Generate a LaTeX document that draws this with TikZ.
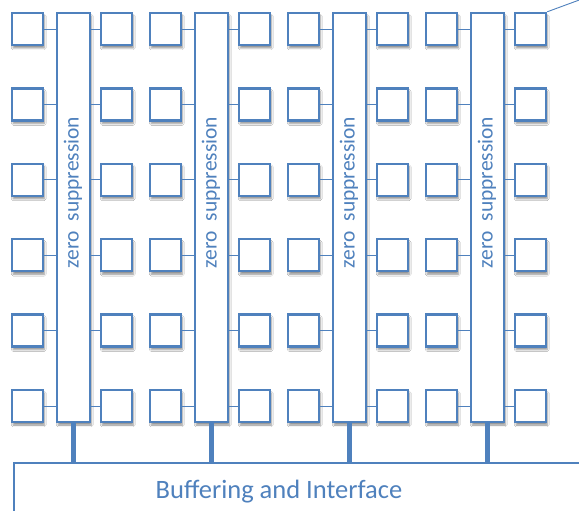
\documentclass[tikz,border=0pt]{standalone}
\usepackage{fontspec}
\setmainfont{Carlito}
\usetikzlibrary{shadows.blur}
\definecolor{boxblue}{RGB}{79,129,189}
\definecolor{textblue}{RGB}{79,129,189}
\begin{document}
\begin{tikzpicture}[x=1pt,y=-1pt,
  shade/.style={blur shadow={shadow xshift=1.2pt, shadow yshift=-3pt, shadow blur steps=6, shadow opacity=45}},
  cell/.style={draw=boxblue, line width=2.4pt, fill=white, minimum width=31pt, minimum height=32pt, inner sep=0pt, shade},
  zcol/.style={draw=boxblue, line width=1.6pt, fill=white, minimum width=33pt, minimum height=409pt, inner sep=0pt, shade},
  ztext/.style={text=textblue, font=\fontsize{21.5}{25}\selectfont, inner sep=0pt},
  link/.style={draw=boxblue, line width=0.9pt},
  bus/.style={draw=boxblue, line width=5pt},
  bufbox/.style={draw=boxblue, line width=2pt, fill=white, minimum width=620pt, minimum height=80pt, inner sep=0pt, anchor=north west},
  buftext/.style={text=textblue, font=\fontsize{26.5}{30}\selectfont, inner sep=0pt}
]
\useasboundingbox (0,0) rectangle (579,511);
\clip (0,0) rectangle (579,511);
\fill[white] (0,0) rectangle (579,511);
\node[bufbox] (buf) at (13,462) {};
\node[buftext, anchor=base] (buflabel) at (279,498) {Buffering and Interface};
\foreach \g in {0,...,3} {
  \node[zcol] (c\g) at ({73.5+138*\g},217.5) {};
  \draw[bus] (c\g.south) -- (c\g.south |- buf.north);
  \node[ztext, rotate=90] (t\g) at ({73+138*\g},192.5) {zero\ \ suppression};
  \foreach \r in {0,...,5} {
    \node[cell] (l\g-\r) at ({27.5+138*\g},{29+75.4*\r}) {};
    \node[cell] (r\g-\r) at ({116.5+138*\g},{29+75.4*\r}) {};
    \draw[link] (l\g-\r.east) -- (l\g-\r.east -| c\g.west);
    \draw[link] (r\g-\r.west) -- (r\g-\r.west -| c\g.east);
  }
}
\coordinate (corner) at (582,-1);
\draw[link] (r3-0.north east) -- (corner);
\end{tikzpicture}
\end{document}
